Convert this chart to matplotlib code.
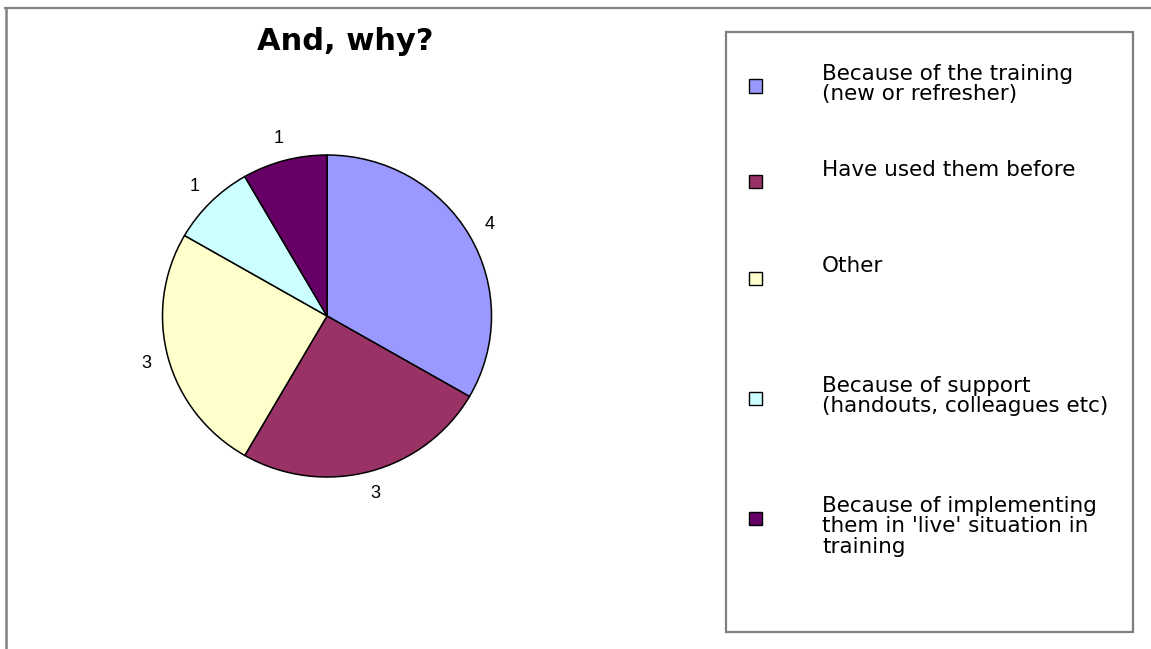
import matplotlib
matplotlib.use("Agg")
import matplotlib.pyplot as plt
from matplotlib.patches import Rectangle
from matplotlib.lines import Line2D

# ---- data ----
categories = [
    "Because of the training\n(new or refresher)",
    "Have used them before",
    "Other",
    "Because of support\n(handouts, colleagues etc)",
    "Because of implementing\nthem in 'live' situation in\ntraining",
]
values = [4, 3, 3, 1, 1]
colors = ["#9999FF", "#993366", "#FFFFCC", "#CCFFFF", "#660066"]
title = "And, why?"

W, H = 1151, 649
fig = plt.figure(figsize=(W / 100, H / 100), dpi=100)
fig.patch.set_facecolor("white")

def fx(px):
    return px / W

def fy(py):
    return 1 - py / H

# outer chart border (top and left visible)
fig.add_artist(Line2D([fx(5), fx(W)], [fy(8), fy(8)], color="#808080", lw=1.6))
fig.add_artist(Line2D([fx(5.5), fx(5.5)], [fy(8), fy(H)], color="#808080", lw=1.8))

# pie axes: centre (327, 316), radii 164.5 x 161 px
cx, cy, rx, ry = 327, 316, 164.5, 161
ax = fig.add_axes([fx(cx - rx), fy(cy + ry), 2 * rx / W, 2 * ry / H])
wedges, texts = ax.pie(
    values,
    labels=[str(v) for v in values],
    colors=colors,
    startangle=90,
    counterclock=False,
    labeldistance=1.14,
    wedgeprops=dict(edgecolor="black", linewidth=1.1),
    textprops=dict(fontsize=13, family="Liberation Sans", color="black"),
)
for t in texts:
    t.set_ha("center")
    t.set_va("center")
ax.set_xlim(-1, 1)
ax.set_ylim(-1, 1)
ax.set_aspect("auto")
ax.axis("off")

# title
fig.text(fx(345), fy(41), title, ha="center", va="center",
         fontsize=22, fontweight="bold", family="DejaVu Sans")

# legend box
box_l, box_t, box_r, box_b = 726, 32, 1133, 632
fig.add_artist(Rectangle((fx(box_l), fy(box_b)), fx(box_r - box_l), (box_b - box_t) / H,
                         transform=fig.transFigure, facecolor="white",
                         edgecolor="#7f7f7f", lw=1.6))

slot_y = [86, 182, 278, 398, 518]
msz = 13
for lab, col, yy in zip(categories, colors, slot_y):
    fig.add_artist(Rectangle((fx(749), fy(yy + msz / 2)), msz / W, msz / H,
                             transform=fig.transFigure, facecolor=col,
                             edgecolor="black", lw=1.0))
    fig.text(fx(822), fy(yy - 22), lab, ha="left", va="top",
             fontsize=15.5, family="DejaVu Sans", linespacing=1.02)

fig.savefig("out.png", dpi=100)
